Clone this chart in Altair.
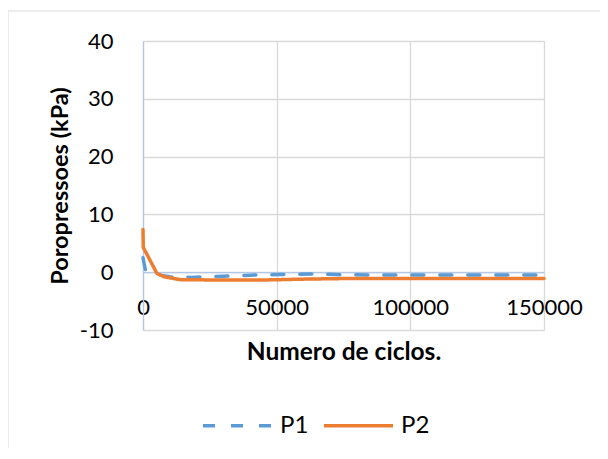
import altair as alt
import pandas as pd

# ---- data ----
p1_x = [0, 900, 5000, 10000, 18000, 30000, 42000, 52000, 64000, 75000, 100000, 125000, 150000]
p1_y = [2.5, 0.4, -0.4, -0.8, -0.9, -0.7, -0.5, -0.4, -0.3, -0.45, -0.5, -0.5, -0.5]
p2_x = [0, 100, 5200, 8000, 14000, 30000, 45000, 60000, 75000, 100000, 125000, 150000]
p2_y = [7.4, 4.3, -0.2, -0.8, -1.3, -1.35, -1.35, -1.2, -1.1, -1.1, -1.1, -1.1]
series_names = ["P1", "P2"]
series_colors = ["#5B9BD5", "#ED7D31"]
x_ticks = [0, 50000, 100000, 150000]
y_ticks = [-10, 0, 10, 20, 30, 40]

rows = []
for i, (xv, yv) in enumerate(zip(p1_x, p1_y)):
    rows.append({"ciclos": xv, "valor": yv, "serie": "P1", "ordem": i})
for i, (xv, yv) in enumerate(zip(p2_x, p2_y)):
    rows.append({"ciclos": xv, "valor": yv, "serie": "P2", "ordem": i})
df = pd.DataFrame(rows)

W, H = 401, 289
FONT = "Lato"
FS = 22
GRID = "#d9d9d9"
AXIS = "#b4c7e7"

x_enc = alt.X(
    "ciclos:Q",
    scale=alt.Scale(domain=[0, 150000], nice=False, zero=False),
    axis=alt.Axis(
        values=x_ticks, labelExpr="toString(datum.value)", labelFont=FONT, labelFontSize=FS,
        labelColor="#000000", labelFlush=False, labelOverlap=False, ticks=False, tickSize=0,
        domain=True, domainColor=AXIS, domainWidth=1.3,
        offset=-H / 5, labelPadding=25,
        grid=True, gridColor=GRID, gridWidth=1.3,
        title="Numero de ciclos.", titleFont=FONT, titleFontSize=24.5, titleFontWeight="bold",
        titleColor="#000000", titleY=80, titleBaseline="middle",
    ),
)
y_enc = alt.Y(
    "valor:Q",
    scale=alt.Scale(domain=[-10, 40], nice=False, zero=False),
    axis=alt.Axis(
        values=y_ticks, labelExpr="toString(datum.value)", labelFont=FONT, labelFontSize=FS,
        labelColor="#000000", labelFlush=False, labelOverlap=False, ticks=False, tickSize=0,
        domain=True, domainColor=AXIS, domainWidth=1.3, labelPadding=30,
        grid=True, gridColor=GRID, gridWidth=1.3,
        title="Poropressoes (kPa)", titleFont=FONT, titleFontSize=23.5, titleFontWeight="bold",
        titleColor="#000000", titleX=-83, titleY=H / 2, titleAngle=270, titleBaseline="middle",
    ),
)

legend_opts = dict(
    title=None, orient="none", direction="horizontal", legendX=58, legendY=348,
    symbolType="stroke", symbolSize=4761, symbolStrokeWidth=3.5,
    labelFont=FONT, labelFontSize=24, labelColor="#000000", labelOffset=6,
    columnPadding=8,
)

lines = alt.Chart(df).mark_line(strokeWidth=3.5, strokeCap="round", strokeJoin="round").encode(
    x=x_enc,
    y=y_enc,
    order="ordem:Q",
    color=alt.Color(
        "serie:N",
        scale=alt.Scale(domain=series_names, range=series_colors),
        legend=alt.Legend(**legend_opts),
    ),
    strokeDash=alt.StrokeDash(
        "serie:N",
        scale=alt.Scale(domain=series_names, range=[[12, 16], [1, 0]]),
        legend=alt.Legend(**legend_opts),
    ),
)

frame_top = alt.Chart(pd.DataFrame({"k": [0]})).mark_rule(color="#dadada", strokeWidth=1).encode(
    x=alt.value(-135), x2=alt.value(W + 60), y=alt.value(-30)
)
frame_left = alt.Chart(pd.DataFrame({"k": [0]})).mark_rule(color="#dadada", strokeWidth=1).encode(
    x=alt.value(-135), y=alt.value(-30), y2=alt.value(H + 130)
)

chart = (
    alt.layer(frame_top, frame_left, lines)
    .properties(
        width=W, height=H,
        autosize=alt.AutoSizeParams(type="none"),
        padding={"left": 135, "top": 33, "right": 56, "bottom": 118},
        background="#ffffff",
    )
    .configure_view(stroke=None)
)

chart.save("out.html", embed_options={"renderer": "svg", "actions": False})
